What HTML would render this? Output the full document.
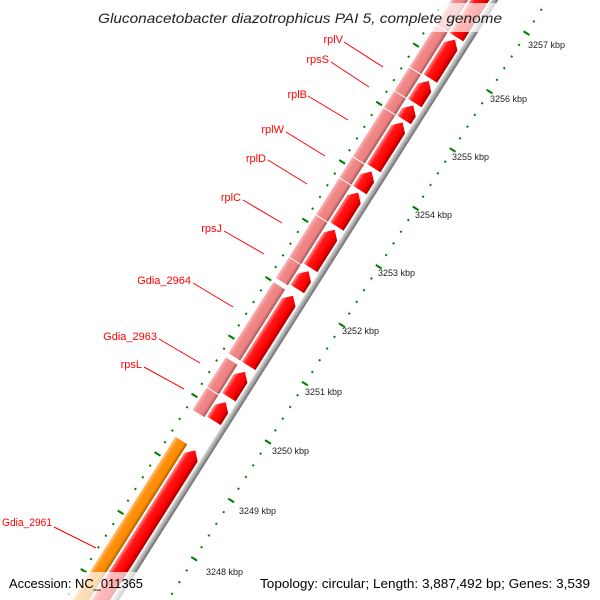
<!DOCTYPE html>
<html><head><meta charset="utf-8"><style>
html,body{margin:0;padding:0;background:#fff;width:600px;height:600px;overflow:hidden;}
svg{display:block;font-family:"Liberation Sans","DejaVu Sans",sans-serif;overflow:hidden;}
</style></head><body>
<svg width="600" height="600" viewBox="0 0 600 600" xmlns="http://www.w3.org/2000/svg">
<defs>
<clipPath id="cp"><rect x="0" y="0" width="600" height="600"/></clipPath>
<linearGradient id="gR" x1="0" y1="0" x2="0" y2="1">
<stop offset="0" stop-color="#ff8a8a"/><stop offset="0.25" stop-color="#ff1a1a"/><stop offset="0.7" stop-color="#ff0000"/><stop offset="1" stop-color="#a80000"/></linearGradient>
<linearGradient id="gP" x1="0" y1="0" x2="0" y2="1">
<stop offset="0" stop-color="#f8b4b4"/><stop offset="0.3" stop-color="#f08888"/><stop offset="0.75" stop-color="#ee8080"/><stop offset="1" stop-color="#a05858"/></linearGradient>
<linearGradient id="gO" x1="0" y1="0" x2="0" y2="1">
<stop offset="0" stop-color="#ffc070"/><stop offset="0.3" stop-color="#ff9010"/><stop offset="0.75" stop-color="#ff8c00"/><stop offset="1" stop-color="#a86000"/></linearGradient>
<linearGradient id="gG" x1="0" y1="0" x2="0" y2="1">
<stop offset="0" stop-color="#e0e0e0"/><stop offset="0.5" stop-color="#a8a8a8"/><stop offset="1" stop-color="#686868"/></linearGradient>
</defs>
<g clip-path="url(#cp)">
<g transform="translate(268,442) rotate(-57.7)">
<line x1="-346.5" y1="0" x2="700" y2="0" stroke="#008000" stroke-width="2" stroke-dasharray="2 11.82"/>
<line x1="-346.5" y1="0" x2="700" y2="0" stroke="#008000" stroke-width="7" stroke-dasharray="2 67.1"/>
<line x1="-346.5" y1="-87" x2="700" y2="-87" stroke="#008000" stroke-width="2" stroke-dasharray="2 11.82"/>
<line x1="-346.5" y1="-87" x2="700" y2="-87" stroke="#008000" stroke-width="7" stroke-dasharray="2 67.1"/>
<rect x="-400" y="-47.5" width="1100" height="6" fill="url(#gG)"/>
<g fill="url(#gR)">
<polygon points="-400,-65 -54,-65 -46,-57 -54,-49 -400,-49"/>
<polygon points="-11,-65 3,-65 11,-57 3,-49 -11,-49"/>
<polygon points="17,-65 39,-65 47,-57 39,-49 17,-49"/>
<polygon points="54,-65 129,-65 137,-57 129,-49 54,-49"/>
<polygon points="145,-65 158,-65 166,-57 158,-49 145,-49"/>
<polygon points="170,-65 207,-65 215,-57 207,-49 170,-49"/>
<polygon points="219,-65 251,-65 259,-57 251,-49 219,-49"/>
<polygon points="262,-65 276,-65 284,-57 276,-49 262,-49"/>
<polygon points="288,-65 334,-65 342,-57 334,-49 288,-49"/>
<polygon points="345,-65 354,-65 362,-57 354,-49 345,-49"/>
<polygon points="365,-65 383,-65 391,-57 383,-49 365,-49"/>
<polygon points="394,-65 432,-65 440,-57 432,-49 394,-49"/>
<polygon points="443,-65 492,-65 500,-57 492,-49 443,-49"/>
</g>
<rect x="-400" y="-81" width="355" height="14" fill="url(#gO)"/>
<g fill="url(#gP)">
<rect x="-13" y="-81" width="26" height="14"/>
<rect x="14" y="-81" width="35" height="14"/>
<rect x="54" y="-81" width="84" height="14"/>
<rect x="143" y="-81" width="24" height="14"/>
<rect x="168" y="-81" width="49" height="14"/>
<rect x="218" y="-81" width="43" height="14"/>
<rect x="262" y="-81" width="24" height="14"/>
<rect x="287" y="-81" width="57" height="14"/>
<rect x="345" y="-81" width="19" height="14"/>
<rect x="365" y="-81" width="27" height="14"/>
<rect x="393" y="-81" width="49" height="14"/>
<rect x="443" y="-81" width="200" height="14"/>
</g>
</g>
</g>

<g font-size="9" fill="#222">
<text x="528" y="48">3257 kbp</text>
<text x="490" y="102">3256 kbp</text>
<text x="452" y="160">3255 kbp</text>
<text x="415" y="218">3254 kbp</text>
<text x="378" y="276">3253 kbp</text>
<text x="342" y="334">3252 kbp</text>
<text x="305" y="395">3251 kbp</text>
<text x="272" y="454">3250 kbp</text>
<text x="239" y="514">3249 kbp</text>
<text x="206" y="575">3248 kbp</text>
</g>

<g stroke="#ff0000" stroke-width="1">
<line x1="344" y1="42" x2="383" y2="67"/>
<line x1="331" y1="62" x2="369" y2="87"/>
<line x1="308" y1="96" x2="348" y2="120"/>
<line x1="286" y1="132" x2="325" y2="156"/>
<line x1="268" y1="160" x2="307" y2="184"/>
<line x1="243" y1="200" x2="282" y2="223"/>
<line x1="224" y1="231" x2="264" y2="254"/>
<line x1="193" y1="283" x2="233" y2="307"/>
<line x1="159" y1="339" x2="200" y2="363"/>
<line x1="144" y1="367" x2="184" y2="389"/>
<line x1="54" y1="527" x2="96" y2="548"/>
</g>
<g font-size="11" fill="#ff0000" text-anchor="end">
<text x="343" y="43">rplV</text>
<text x="329" y="63">rpsS</text>
<text x="307" y="98">rplB</text>
<text x="284" y="133">rplW</text>
<text x="266" y="162">rplD</text>
<text x="241" y="201">rplC</text>
<text x="222" y="232">rpsJ</text>
<text x="191" y="284">Gdia_2964</text>
<text x="157" y="340">Gdia_2963</text>
<text x="142" y="368">rpsL</text>
</g>
<text x="2" y="526" font-size="11" fill="#ff0000" textLength="50" lengthAdjust="spacingAndGlyphs">Gdia_2961</text>

<rect x="92" y="3" width="416" height="29" fill="#fff" fill-opacity="0.7"/>
<text x="300" y="23" font-size="14" font-style="italic" fill="#222" text-anchor="middle" textLength="404" lengthAdjust="spacingAndGlyphs">Gluconacetobacter diazotrophicus PAI 5, complete genome</text>

<rect x="0" y="572" width="152" height="28" fill="#fff" fill-opacity="0.7"/>
<rect x="254" y="572" width="346" height="28" fill="#fff" fill-opacity="0.7"/>
<text x="9" y="588" font-size="13" fill="#000" textLength="134" lengthAdjust="spacingAndGlyphs">Accession: NC_011365</text>
<text x="260" y="588" font-size="13" fill="#000" textLength="330" lengthAdjust="spacingAndGlyphs">Topology: circular; Length: 3,887,492 bp; Genes: 3,539</text>
</svg>
</body></html>
